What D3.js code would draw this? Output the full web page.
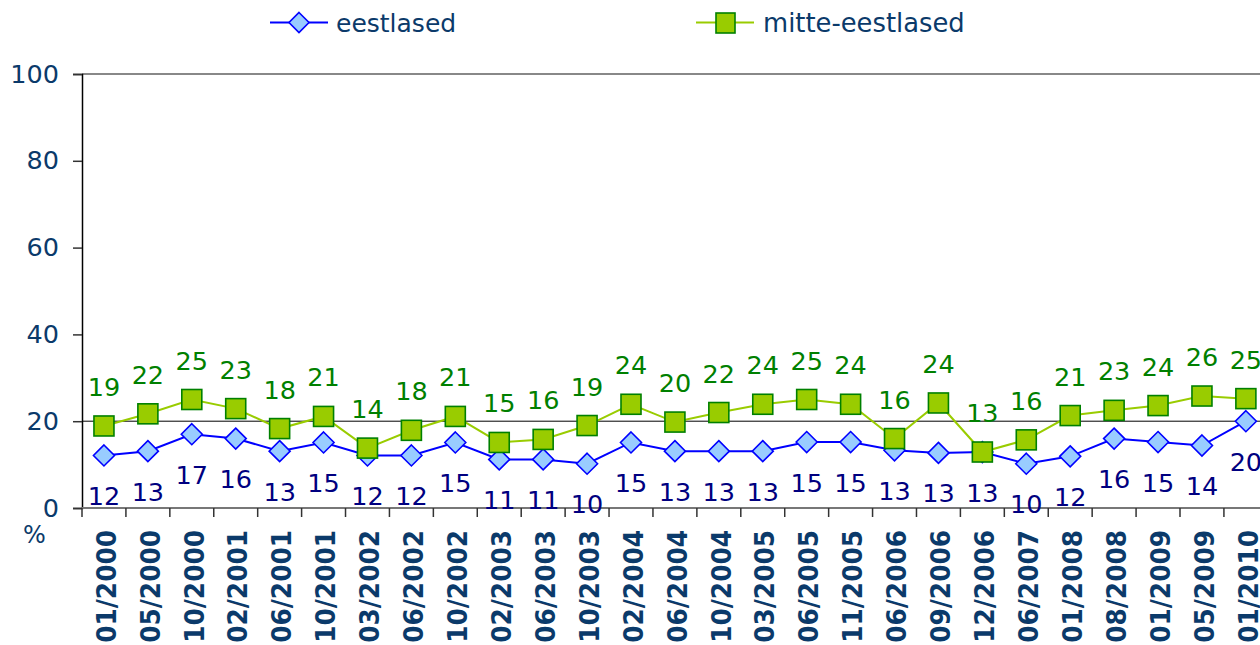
<!DOCTYPE html>
<html>
<head>
<meta charset="utf-8">
<script src="https://cdn.jsdelivr.net/npm/d3@7"></script>
<style>
  html, body { margin: 0; padding: 0; background: #fff; }
  svg { display: block; font-family: "DejaVu Sans", Verdana, sans-serif; }
</style>
</head>
<body>
<svg id="chart" width="1260" height="645"></svg>
<script>
const categories = ["01/2000","05/2000","10/2000","02/2001","06/2001","10/2001","03/2002","06/2002","10/2002","02/2003","06/2003","10/2003","02/2004","06/2004","10/2004","03/2005","06/2005","11/2005","06/2006","09/2006","12/2006","06/2007","01/2008","08/2008","01/2009","05/2009","01/2010"];
const eestlased = [12.1,13.1,17.0,16.0,13.1,15.1,12.1,12.1,15.1,11.2,11.2,10.2,15.1,13.1,13.1,13.1,15.2,15.2,13.3,12.7,12.9,10.2,11.9,16.0,15.2,14.4,20.0];
const mitteEestlased = [18.9,21.7,25.0,22.9,18.3,21.1,13.8,17.9,21.1,15.1,15.8,19.0,23.9,19.8,22.0,23.9,25.0,23.9,16.0,24.2,12.9,15.7,21.3,22.5,23.6,25.8,25.2];
const yTicks = [0,20,40,60,80,100];
const seriesNames = ["eestlased","mitte-eestlased"];

const svg = d3.select("#chart");
const plotLeft = 82, plotTop = 74, plotBottom = 508, bandW = 43.92;
const x = d3.scaleBand().domain(categories).range([plotLeft, plotLeft + bandW * categories.length]).padding(0);
const y = d3.scaleLinear().domain([0, 100]).range([plotBottom, plotTop]);
const cx = c => x(c) + x.bandwidth() / 2;
const textColor = "#0b3a6a";

// top border
svg.append("line").attr("x1", plotLeft).attr("x2", 1260).attr("y1", y(100)).attr("y2", y(100))
  .attr("stroke", "#888").attr("stroke-width", 2);
// gridline at 20
svg.append("line").attr("x1", plotLeft).attr("x2", 1260).attr("y1", y(20)).attr("y2", y(20))
  .attr("stroke", "#000").attr("stroke-width", 1);

// y axis
const yAxis = svg.append("g").attr("transform", `translate(${plotLeft},0)`)
  .call(d3.axisLeft(y).tickValues(yTicks).tickSize(9).tickPadding(14).tickFormat(d3.format("d")));
yAxis.select(".domain").attr("stroke", "#000").attr("stroke-width", 1.5);
yAxis.selectAll(".tick line").attr("stroke", "#333").attr("stroke-width", 1.5);
yAxis.selectAll(".tick text").attr("fill", textColor).attr("font-size", 25.5)
  .attr("font-family", "DejaVu Sans, Verdana, sans-serif");

// x axis
const xAxis = svg.append("g").attr("transform", `translate(0,${plotBottom})`)
  .call(d3.axisBottom(x).tickSize(0).tickFormat(""));
xAxis.select(".domain").remove();
svg.append("line").attr("x1", plotLeft).attr("x2", 1260).attr("y1", plotBottom).attr("y2", plotBottom)
  .attr("stroke", "#777").attr("stroke-width", 2);
svg.append("g").selectAll("line").data(categories).join("line")
  .attr("x1", d => x(d)).attr("x2", d => x(d))
  .attr("y1", plotBottom).attr("y2", plotBottom + 9)
  .attr("stroke", "#333").attr("stroke-width", 1.5);
svg.append("g").selectAll("text").data(categories).join("text")
  .attr("transform", d => `translate(${cx(d) + 2},530) rotate(-90) scale(0.92,1)`)
  .attr("text-anchor", "end").attr("dy", "0.36em")
  .attr("font-weight", "bold").attr("font-size", 27).attr("fill", textColor)
  .text(d => d);

// % label
svg.append("text").attr("x", 23).attr("y", 543).attr("font-size", 24).attr("fill", textColor).text("%");

// series drawing
function drawLine(data, color) {
  svg.append("path").datum(data)
    .attr("fill", "none").attr("stroke", color).attr("stroke-width", 2)
    .attr("d", d3.line().x((d, i) => cx(categories[i])).y(d => y(d)));
}
const diamond = s => `M0,${-s}L${s},0L0,${s}L${-s},0Z`;

drawLine(eestlased, "#0000ff");
svg.append("g").selectAll("path").data(eestlased).join("path")
  .attr("transform", (d, i) => `translate(${cx(categories[i])},${y(d)})`)
  .attr("d", diamond(10.5))
  .attr("fill", "#99ccff").attr("stroke", "#0000ff").attr("stroke-width", 1.6);

drawLine(mitteEestlased, "#99cc00");
svg.append("g").selectAll("rect").data(mitteEestlased).join("rect")
  .attr("x", (d, i) => cx(categories[i]) - 10).attr("y", d => y(d) - 10)
  .attr("width", 20).attr("height", 20)
  .attr("fill", "#99cc00").attr("stroke", "#008000").attr("stroke-width", 1.6);

// data labels
svg.append("g").selectAll("text").data(eestlased).join("text")
  .attr("x", (d, i) => cx(categories[i])).attr("y", d => y(d) + 49.5)
  .attr("text-anchor", "middle").attr("font-size", 25.5).attr("fill", "#000080")
  .text(d => Math.round(d));
svg.append("g").selectAll("text").data(mitteEestlased).join("text")
  .attr("x", (d, i) => cx(categories[i])).attr("y", d => y(d) - 30)
  .attr("text-anchor", "middle").attr("font-size", 25.5).attr("fill", "#008000")
  .text(d => Math.round(d));

// legend
const lg = svg.append("g");
lg.append("line").attr("x1", 270).attr("x2", 328).attr("y1", 22.5).attr("y2", 22.5)
  .attr("stroke", "#0000ff").attr("stroke-width", 2);
lg.append("path").attr("transform", "translate(299,22.5)").attr("d", diamond(10))
  .attr("fill", "#99ccff").attr("stroke", "#0000ff").attr("stroke-width", 1.6);
lg.append("text").attr("x", 336).attr("y", 32).attr("font-size", 25).attr("fill", textColor).text(seriesNames[0]);
lg.append("line").attr("x1", 696).attr("x2", 754).attr("y1", 22.5).attr("y2", 22.5)
  .attr("stroke", "#99cc00").attr("stroke-width", 2);
lg.append("rect").attr("x", 716).attr("y", 13).attr("width", 19).attr("height", 20)
  .attr("fill", "#99cc00").attr("stroke", "#008000").attr("stroke-width", 1.6);
lg.append("text").attr("x", 763).attr("y", 32).attr("font-size", 25.8).attr("fill", textColor).text(seriesNames[1]);
</script>
</body>
</html>
